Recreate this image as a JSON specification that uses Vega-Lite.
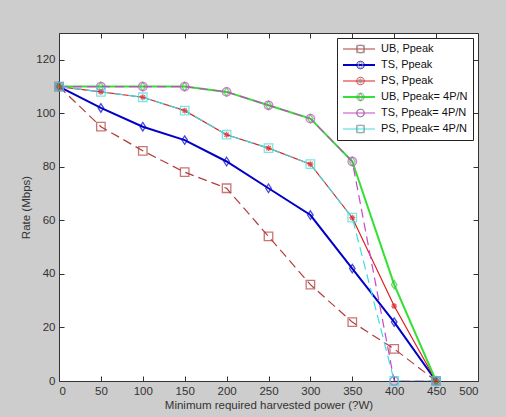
{
  "$schema": "https://vega.github.io/schema/vega-lite/v6.json",
  "width": 419,
  "height": 348,
  "autosize": {"type": "none"},
  "padding": {"left": 59, "top": 33, "right": 28, "bottom": 36},
  "background": "#cdcdcd",
  "config": {
    "view": {"fill": "white", "stroke": "#333333", "strokeWidth": 1},
    "font": "Liberation Sans",
    "axis": {
      "domain": false, "grid": false, "tickSize": -5, "tickColor": "#333333",
      "labelFont": "Liberation Sans", "labelFontSize": 11.5, "labelColor": "#333333",
      "titleFont": "Liberation Sans", "titleFontSize": 11.5, "titleFontWeight": "normal", "titleColor": "#333333"
    }
  },
  "data": {"values": [
    {"x": 0, "y": 110, "s": "UB, Ppeak"}, {"x": 50, "y": 95, "s": "UB, Ppeak"}, {"x": 100, "y": 86, "s": "UB, Ppeak"}, {"x": 150, "y": 78, "s": "UB, Ppeak"}, {"x": 200, "y": 72, "s": "UB, Ppeak"}, {"x": 250, "y": 54, "s": "UB, Ppeak"}, {"x": 300, "y": 36, "s": "UB, Ppeak"}, {"x": 350, "y": 22, "s": "UB, Ppeak"}, {"x": 400, "y": 12, "s": "UB, Ppeak"}, {"x": 450, "y": 0, "s": "UB, Ppeak"},
    {"x": 0, "y": 110, "s": "TS, Ppeak"}, {"x": 50, "y": 102, "s": "TS, Ppeak"}, {"x": 100, "y": 95, "s": "TS, Ppeak"}, {"x": 150, "y": 90, "s": "TS, Ppeak"}, {"x": 200, "y": 82, "s": "TS, Ppeak"}, {"x": 250, "y": 72, "s": "TS, Ppeak"}, {"x": 300, "y": 62, "s": "TS, Ppeak"}, {"x": 350, "y": 42, "s": "TS, Ppeak"}, {"x": 400, "y": 22, "s": "TS, Ppeak"}, {"x": 450, "y": 0, "s": "TS, Ppeak"},
    {"x": 0, "y": 110, "s": "PS, Ppeak"}, {"x": 50, "y": 108, "s": "PS, Ppeak"}, {"x": 100, "y": 106, "s": "PS, Ppeak"}, {"x": 150, "y": 101, "s": "PS, Ppeak"}, {"x": 200, "y": 92, "s": "PS, Ppeak"}, {"x": 250, "y": 87, "s": "PS, Ppeak"}, {"x": 300, "y": 81, "s": "PS, Ppeak"}, {"x": 350, "y": 61, "s": "PS, Ppeak"}, {"x": 400, "y": 28, "s": "PS, Ppeak"}, {"x": 450, "y": 0, "s": "PS, Ppeak"},
    {"x": 0, "y": 110, "s": "UB, Ppeak= 4P/N"}, {"x": 50, "y": 110, "s": "UB, Ppeak= 4P/N"}, {"x": 100, "y": 110, "s": "UB, Ppeak= 4P/N"}, {"x": 150, "y": 110, "s": "UB, Ppeak= 4P/N"}, {"x": 200, "y": 108, "s": "UB, Ppeak= 4P/N"}, {"x": 250, "y": 103, "s": "UB, Ppeak= 4P/N"}, {"x": 300, "y": 98, "s": "UB, Ppeak= 4P/N"}, {"x": 350, "y": 82, "s": "UB, Ppeak= 4P/N"}, {"x": 400, "y": 36, "s": "UB, Ppeak= 4P/N"}, {"x": 450, "y": 0, "s": "UB, Ppeak= 4P/N"},
    {"x": 0, "y": 110, "s": "TS, Ppeak= 4P/N"}, {"x": 50, "y": 110, "s": "TS, Ppeak= 4P/N"}, {"x": 100, "y": 110, "s": "TS, Ppeak= 4P/N"}, {"x": 150, "y": 110, "s": "TS, Ppeak= 4P/N"}, {"x": 200, "y": 108, "s": "TS, Ppeak= 4P/N"}, {"x": 250, "y": 103, "s": "TS, Ppeak= 4P/N"}, {"x": 300, "y": 98, "s": "TS, Ppeak= 4P/N"}, {"x": 350, "y": 82, "s": "TS, Ppeak= 4P/N"}, {"x": 400, "y": 0, "s": "TS, Ppeak= 4P/N"}, {"x": 450, "y": 0, "s": "TS, Ppeak= 4P/N"},
    {"x": 0, "y": 110, "s": "PS, Ppeak= 4P/N"}, {"x": 50, "y": 108, "s": "PS, Ppeak= 4P/N"}, {"x": 100, "y": 106, "s": "PS, Ppeak= 4P/N"}, {"x": 150, "y": 101, "s": "PS, Ppeak= 4P/N"}, {"x": 200, "y": 92, "s": "PS, Ppeak= 4P/N"}, {"x": 250, "y": 87, "s": "PS, Ppeak= 4P/N"}, {"x": 300, "y": 81, "s": "PS, Ppeak= 4P/N"}, {"x": 350, "y": 61, "s": "PS, Ppeak= 4P/N"}, {"x": 400, "y": 0, "s": "PS, Ppeak= 4P/N"}, {"x": 450, "y": 0, "s": "PS, Ppeak= 4P/N"}
  ]},
  "layer": [
    {
      "transform": [{"filter": {"field": "s", "oneOf": ["TS, Ppeak", "PS, Ppeak", "UB, Ppeak= 4P/N"]}}],
      "mark": {"type": "line", "clip": true},
      "encoding": {
        "x": {"field": "x", "type": "quantitative", "scale": {"domain": [0, 500], "nice": false},
              "axis": {"orient": "bottom", "values": [0, 50, 100, 150, 200, 250, 300, 350, 400, 450, 500], "labelPadding": 9, "titlePadding": 3, "title": "Minimum required harvested power (?W)"}},
        "y": {"field": "y", "type": "quantitative", "scale": {"domain": [0, 130], "nice": false},
              "axis": {"orient": "left", "values": [0, 20, 40, 60, 80, 100, 120], "labelPadding": 9, "titlePadding": 4, "title": "Rate (Mbps)"}},
        "stroke": {"field": "s", "type": "nominal",
          "scale": {"domain": ["UB, Ppeak", "TS, Ppeak", "PS, Ppeak", "UB, Ppeak= 4P/N", "TS, Ppeak= 4P/N", "PS, Ppeak= 4P/N"],
                    "range": ["#b23c3c", "#0000c8", "#dd2020", "#33e033", "#cc44cc", "#40dcdc"]},
          "legend": {"orient": "top-right", "offset": 5, "title": null, "padding": 5, "strokeColor": "#222222",
                     "symbolSize": 1024, "labelOffset": 5, "labelFont": "Liberation Sans", "labelFontSize": 11, "labelColor": "#111111",
                     "rowPadding": 4, "clipHeight": 12}},
        "strokeWidth": {"field": "s", "type": "nominal",
          "scale": {"type": "ordinal", "domain": ["UB, Ppeak", "TS, Ppeak", "PS, Ppeak", "UB, Ppeak= 4P/N", "TS, Ppeak= 4P/N", "PS, Ppeak= 4P/N"],
                    "range": [1.2, 2, 1.2, 2, 1.2, 1.2]}},
        "order": {"field": "x", "type": "quantitative"}
      }
    },
    {
      "transform": [{"filter": {"field": "s", "oneOf": ["UB, Ppeak", "TS, Ppeak= 4P/N", "PS, Ppeak= 4P/N"]}}],
      "mark": {"type": "line", "clip": true, "strokeDash": [9, 5], "strokeWidth": 1.2},
      "encoding": {
        "x": {"field": "x", "type": "quantitative", "axis": null},
        "y": {"field": "y", "type": "quantitative", "axis": null},
        "stroke": {"field": "s", "type": "nominal"},
        "order": {"field": "x", "type": "quantitative"}
      }
    },
    {
      "mark": {"type": "point", "filled": false, "size": 72, "strokeWidth": 1.3, "clip": false},
      "encoding": {
        "x": {"field": "x", "type": "quantitative",
              "axis": {"orient": "top", "values": [0, 50, 100, 150, 200, 250, 300, 350, 400, 450, 500], "labels": false, "title": null}},
        "y": {"field": "y", "type": "quantitative",
              "axis": {"orient": "right", "values": [0, 20, 40, 60, 80, 100, 120], "labels": false, "title": null}},
        "color": {"field": "s", "type": "nominal",
          "sort": ["UB, Ppeak", "TS, Ppeak", "PS, Ppeak", "UB, Ppeak= 4P/N", "TS, Ppeak= 4P/N", "PS, Ppeak= 4P/N"],
          "scale": {"range": ["#b23c3c", "#0000c8", "#dd2020", "#33c833", "#cc44cc", "#40dcdc"]},
          "legend": {"orient": "none", "legendX": 291, "legendY": 5, "title": null, "padding": 5,
                     "symbolSize": 56, "symbolStrokeWidth": 1.2, "labelOffset": 5, "labelFontSize": 11, "labelExpr": "''",
                     "rowPadding": 4, "clipHeight": 12}},
        "shape": {"field": "s", "type": "nominal",
          "sort": ["UB, Ppeak", "TS, Ppeak", "PS, Ppeak", "UB, Ppeak= 4P/N", "TS, Ppeak= 4P/N", "PS, Ppeak= 4P/N"],
          "scale": {"range": ["square", "M0,-1L0.65,0L0,1L-0.65,0Z", "M-0.7,0L0.7,0M0,-0.7L0,0.7M-0.5,-0.5L0.5,0.5M-0.5,0.5L0.5,-0.5", "M0,-1L0.65,0L0,1L-0.65,0Z", "circle", "square"]},
          "legend": {"orient": "none", "legendX": 291, "legendY": 5, "title": null, "padding": 5,
                     "symbolSize": 56, "symbolStrokeWidth": 1.2, "labelOffset": 5, "labelFontSize": 11, "labelExpr": "''",
                     "rowPadding": 4, "clipHeight": 12}}
      }
    }
  ],
  "resolve": {"axis": {"x": "independent", "y": "independent"}}
}
